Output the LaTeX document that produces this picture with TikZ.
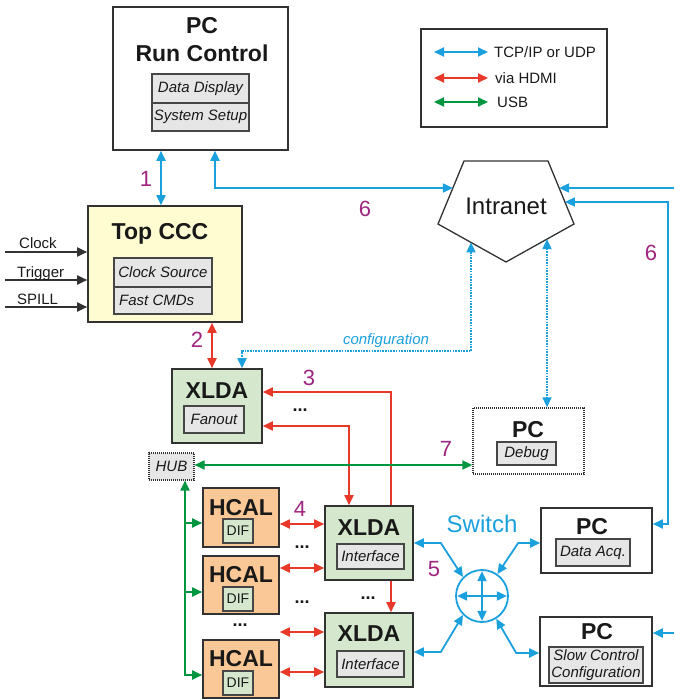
\documentclass[tikz,border=0pt]{standalone}
\usepackage{fontspec}
\setmainfont{Liberation Sans}
\usetikzlibrary{arrows.meta,fit}
\definecolor{blueC}{RGB}{27,160,222}
\definecolor{redC}{RGB}{232,56,42}
\definecolor{greenC}{RGB}{0,150,64}
\definecolor{purpC}{RGB}{158,38,128}
\definecolor{boxC}{RGB}{50,50,50}
\definecolor{subC}{RGB}{70,70,70}
\definecolor{grayFill}{RGB}{230,230,230}
\definecolor{xldaFill}{RGB}{213,232,206}
\definecolor{hcalFill}{RGB}{250,200,150}
\definecolor{cccFill}{RGB}{255,252,210}
\definecolor{txtC}{RGB}{25,25,25}
\begin{document}
\begin{tikzpicture}[x=1pt,y=-1pt,>={Triangle[length=10pt,width=9pt]},
 every node/.style={text=txtC},
 box/.style={draw=boxC,line width=1.6pt,inner sep=0pt},
 sub/.style={draw=subC,fill=grayFill,line width=1.3pt,inner sep=0pt,font=\fontsize{15}{17}\selectfont\itshape},
 dif/.style={draw=subC,fill=xldaFill,line width=1.3pt,inner sep=0pt,minimum width=30pt,minimum height=24pt,font=\fontsize{14}{16}\selectfont},
 ttl/.style={anchor=base,inner sep=0pt,font=\fontsize{23}{27}\selectfont\bfseries},
 num/.style={anchor=base,inner sep=0pt,text=purpC,font=\fontsize{22}{26}\selectfont},
 lbl/.style={inner sep=0pt,font=\fontsize{15}{17}\selectfont},
 ell/.style={inner sep=0pt,font=\fontsize{18}{18}\selectfont\bfseries},
 conn/.style={line width=1.8pt},
 blu/.style={conn,draw=blueC},
 rd/.style={conn,draw=redC},
 grn/.style={conn,draw=greenC},
 blk/.style={conn,draw=boxC},
 dotl/.style={draw=blueC,line width=1.7pt,dash pattern=on 1.6pt off 1.1pt},
]
\useasboundingbox (0,0) rectangle (674,700);

% ---------- PC Run Control
\node[box,fit={(113,7)(288,150)}] (rc) {};
\node[ttl] (rcT1) at (202,34) {PC};
\node[ttl] (rcT2) at (202,62) {Run Control};
\node[sub,minimum width=97pt,minimum height=29pt] (rcD) at (200.5,88.5) {Data Display};
\node[sub,minimum width=97pt,minimum height=28pt] (rcS) at (200.5,117) {System Setup};

% ---------- Legend
\node[draw=boxC,line width=1.4pt,inner sep=0pt,fit={(421,29)(607,127)}] (leg) {};
\coordinate (lg1a) at (434,52);  \coordinate (lg1b) at (488,52);
\coordinate (lg2a) at (434,78);  \coordinate (lg2b) at (488,78);
\coordinate (lg3a) at (434,102); \coordinate (lg3b) at (488,102);
\draw[blu,<->] (lg1a) -- (lg1b);
\draw[rd,<->] (lg2a) -- (lg2b);
\draw[grn,<->] (lg3a) -- (lg3b);
\node[lbl,anchor=west] (legT1) at (494,52) {TCP/IP or UDP};
\node[lbl,anchor=west] (legT2) at (495,78) {via HDMI};
\node[lbl,anchor=west] (legT3) at (497,102) {USB};

% ---------- Top CCC
\node[box,fill=cccFill,fit={(88,206)(242,322)}] (ccc) {};
\node[ttl] (cccT) at (160,240) {Top CCC};
\node[sub,minimum width=98pt,minimum height=29pt] (cccC) at (163,272.5) {Clock Source};
\node[sub,minimum width=98pt,minimum height=27pt] (cccF) at (163,300.5) {};
\node[lbl,font=\fontsize{15}{17}\selectfont\itshape,anchor=west] (cccFt) at (119,300.5) {Fast CMDs};

\coordinate (inClk) at (5,252);
\coordinate (inTrg) at (5,280);
\coordinate (inSpl) at (5,307);
\draw[blk,->] (inClk) -- (inClk -| ccc.west);
\draw[blk,->] (inTrg) -- (inTrg -| ccc.west);
\draw[blk,->] (inSpl) -- (inSpl -| ccc.west);
\node[lbl,anchor=base west] (tClk) at (19,248) {Clock};
\node[lbl,anchor=base west] (tTrg) at (17,277) {Trigger};
\node[lbl,anchor=base west] (tSpl) at (17,304) {SPILL};

% ---------- Intranet
\coordinate (iA) at (464,161);
\coordinate (iB) at (548,161);
\coordinate (iC) at (574,224);
\coordinate (iD) at (506,262);
\coordinate (iE) at (438,224);
\draw[draw=boxC,line width=1.3pt,line join=miter] (iA) -- (iB) -- (iC) -- (iD) -- (iE) -- cycle;
\node[inner sep=0pt,anchor=base,font=\fontsize{24}{28}\selectfont] (intra) at (506,215) {Intranet};
\coordinate (iL1) at (452.9,188);
\coordinate (iR1) at (559.1,188);
\coordinate (iR2) at (564.9,202);
\coordinate (iB1) at (471,242.4);
\coordinate (iB2) at (547,239.1);

% ---------- XLDA Fanout
\node[box,fill=xldaFill,fit={(172,369)(262,443)}] (xf) {};
\node[ttl] (xfT) at (217,398) {XLDA};
\node[sub,minimum width=60pt,minimum height=27pt] (xfF) at (214,419.5) {Fanout};

% ---------- HUB and PC Debug
\node[draw=boxC,line width=1.1pt,dash pattern=on 1pt off 1pt,fill=grayFill,inner sep=0pt,minimum width=45pt,minimum height=27pt,font=\fontsize{15}{17}\selectfont\itshape] (hub) at (171.5,466.5) {HUB};
\node[draw=boxC,line width=1.3pt,dash pattern=on 1pt off 1pt,inner sep=0pt,fit={(473,408)(584,474)}] (pdb) {};
\node[ttl] (pdbT) at (528,437) {PC};
\node[sub,minimum width=59pt,minimum height=23pt] (pdbD) at (526.5,453.5) {Debug};

% ---------- HCAL boxes
\node[box,fill=hcalFill,fit={(203,488)(279,547)}] (h1) {};
\node[box,fill=hcalFill,fit={(203,556)(279,614)}] (h2) {};
\node[box,fill=hcalFill,fit={(203,640)(279,698)}] (h3) {};
\node[ttl] (h1T) at (241,515) {HCAL};
\node[ttl] (h2T) at (241,582.5) {HCAL};
\node[ttl] (h3T) at (241,666.5) {HCAL};
\node[dif] (d1) at (238,531) {DIF};
\node[dif] (d2) at (238,599) {DIF};
\node[dif] (d3) at (238,683) {DIF};

% ---------- XLDA Interface boxes
\node[box,fill=xldaFill,fit={(325,506)(413,580)}] (x1) {};
\node[ttl] (x1T) at (369,535) {XLDA};
\node[sub,minimum width=67pt,minimum height=25pt] (x1I) at (370.5,556.5) {Interface};
\node[box,fill=xldaFill,fit={(325,613)(413,687)}] (x2) {};
\node[ttl] (x2T) at (369,641.5) {XLDA};
\node[sub,minimum width=67pt,minimum height=26pt] (x2I) at (370.5,664) {Interface};

% ---------- PCs right
\node[box,fit={(541,508)(652,573)}] (pda) {};
\node[ttl] (pdaT) at (592,534) {PC};
\node[sub,minimum width=74pt,minimum height=27pt] (pdaD) at (593,552.5) {Data Acq.};
\node[box,fit={(540,617)(652,686)}] (psc) {};
\node[ttl] (pscT) at (597,639.5) {PC};
\node[sub,minimum width=94pt,minimum height=36pt,align=center,font=\fontsize{15}{16.5}\selectfont\itshape] (pscD) at (596,665) {Slow Control\\Configuration};

% ---------- Switch
\node[circle,draw=blueC,line width=1.8pt,minimum size=52pt,inner sep=0pt] (sw) at (482,596) {};
\draw[blu,<->] ([xshift=2pt]sw.west) -- ([xshift=-2pt]sw.east);
\draw[blu,<->] ([yshift=-2pt]sw.north) -- ([yshift=2pt]sw.south);
\node[inner sep=0pt,anchor=base,text=blueC,font=\fontsize{24}{28}\selectfont] (swT) at (482,532.5) {Switch};

% ---------- Connections
\draw[blu,<->] ([xshift=-39.5pt]rc.south) -- ([xshift=-4pt]ccc.north);
\node[num] (n1) at (146,187) {1};

\draw[blu,<->] ([xshift=14.5pt]rc.south) |- (iL1);
\node[num] (n6a) at (365,217) {6};

\coordinate (eR1) at (674,188);
\draw[blu,->] (eR1) -- (iR1);
\coordinate (eRv) at (668,202);
\draw[blu,<->] (iR2) -- (eRv) |- ([yshift=16.5pt]pda.east);
\node[num] (n6b) at (651,260) {6};
\coordinate (eR2) at (674,633);
\draw[blu,->] (eR2) -- (eR2 -| psc.east);

\draw[dotl,<->] (iB1) |- ([xshift=25pt,yshift=17pt]xf.north) -- ([xshift=25pt]xf.north);
\node[lbl,text=blueC,font=\fontsize{15}{17}\selectfont\itshape] (cfg) at (386,341) {configuration};
\draw[dotl,<->] (iB2) -- (iB2 |- pdb.north);

\draw[rd,<->] ([xshift=47pt]ccc.south) -- ([xshift=-5pt]xf.north);
\node[num] (n2) at (197,347) {2};

\draw[rd,->] ([xshift=22pt]x1.north) |- ([yshift=14pt]xf.east);
\draw[rd,<->] ([yshift=-20pt]xf.east) -| ([xshift=-20pt]x1.north);
\node[num] (n3) at (309,385) {3};
\node[ell] (e1) at (300,410) {...};

\coordinate (g7) at ([yshift=1.5pt]hub.east);
\draw[grn,<->] (g7) -- (g7 -| pdb.west);
\node[num] (n7) at (446,456) {7};

\coordinate (gv) at ([xshift=13.5pt]hub.south);
\coordinate (g1) at ([yshift=-5.5pt]h1.west);
\coordinate (g2) at ([yshift=-7pt]h2.west);
\coordinate (g3) at ([yshift=-6pt]h3.west);
\draw[grn,<->] (gv) |- (g3);
\draw[grn,->] (gv |- g1) -- (g1);
\draw[grn,->] (gv |- g2) -- (g2);

\coordinate (r1) at ([yshift=-6.5pt]h1.east);
\draw[rd,<->] (r1) -- (r1 -| x1.west);
\coordinate (r2) at ([yshift=17pt]h2.east);
\draw[rd,<->] (r2) -- (r2 -| x1.west);
\coordinate (r3) at ([yshift=18pt]x2.west);
\draw[rd,<->] (r3 -| h2.east) -- (r3);
\coordinate (r4) at ([yshift=-22pt]x2.west);
\draw[rd,<->] (r4 -| h3.east) -- (r4);
\node[num] (n4) at (300,516) {4};
\node[ell] (e2) at (302,547) {...};
\node[ell] (e3) at (302,602) {...};
\node[ell] (e4) at (240,625) {...};
\node[ell] (e5) at (368,598) {...};

\draw[rd,->] ([xshift=22pt]x1.south) -- ([xshift=22pt]x2.north);

\draw[blu,<->] (x1.east) -- ++(27,0) -- (sw.135);
\draw[blu,<->] ([yshift=-2pt]x2.east) -- ++(27,0) -- (sw.225);
\draw[blu,<->] ([yshift=-2.5pt]pda.west) -- ++(-22,0) -- (sw.55);
\draw[blu,<->] ([yshift=-1.5pt]psc.west) -- ++(-23,0) -- (sw.-58);
\node[num] (n5) at (434,576.5) {5};
\end{tikzpicture}
\end{document}
